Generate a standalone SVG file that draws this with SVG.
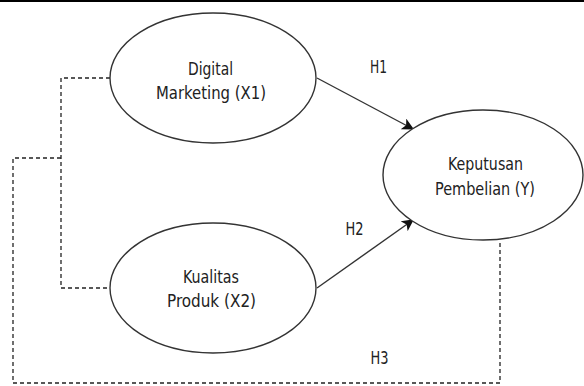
<svg xmlns="http://www.w3.org/2000/svg" width="584" height="386" viewBox="0 0 584 386">
<style>
.node ellipse{fill:#fff;stroke:#333;stroke-width:1.4}
text{font-family:"DejaVu Sans Condensed","DejaVu Sans",sans-serif;font-stretch:condensed;font-size:18px;fill:#222;text-anchor:middle}
.dash{fill:none;stroke:#222;stroke-width:1.3;stroke-dasharray:4 3}
.arrow{fill:none;stroke:#333;stroke-width:1.4;marker-end:url(#ah)}
</style>
<defs>
<marker id="ah" viewBox="0 0 10 10" refX="9" refY="5" markerWidth="12" markerHeight="12" markerUnits="userSpaceOnUse" orient="auto">
<path d="M0,0 L10,5 L0,10 L2.5,5 Z" fill="#111"/>
</marker>
</defs>
<rect width="584" height="386" fill="#fff"/>
<line x1="0" y1="1" x2="584" y2="1" stroke="#000" stroke-width="2"/>
<g id="connectors">
<line class="arrow" x1="317" y1="78" x2="413" y2="129"/>
<line class="arrow" x1="317" y1="288" x2="413" y2="220"/>
<polyline class="dash" points="110,78 61,78 61,288 110,288"/>
<polyline class="dash" points="61,158 13,158 13,383 500,383 500,240"/>
<text x="378.5" y="73" textLength="17" lengthAdjust="spacingAndGlyphs">H1</text>
<text x="354.5" y="235" textLength="18" lengthAdjust="spacingAndGlyphs">H2</text>
<text x="379.5" y="364" textLength="18" lengthAdjust="spacingAndGlyphs">H3</text>
</g>
<g id="x1" class="node">
<ellipse cx="213" cy="78" rx="103" ry="65"/>
<text x="210.5" y="75" textLength="45" lengthAdjust="spacingAndGlyphs">Digital</text>
<text x="211" y="99" textLength="110" lengthAdjust="spacingAndGlyphs">Marketing (X1)</text>
</g>
<g id="x2" class="node">
<ellipse cx="213" cy="288" rx="103" ry="65"/>
<text x="211" y="283" textLength="56" lengthAdjust="spacingAndGlyphs">Kualitas</text>
<text x="211.5" y="307" textLength="89" lengthAdjust="spacingAndGlyphs">Produk (X2)</text>
</g>
<g id="y" class="node">
<ellipse cx="483" cy="175" rx="100" ry="65"/>
<text x="485.5" y="170" textLength="75" lengthAdjust="spacingAndGlyphs">Keputusan</text>
<text x="485" y="195" textLength="100" lengthAdjust="spacingAndGlyphs">Pembelian (Y)</text>
</g>
</svg>
